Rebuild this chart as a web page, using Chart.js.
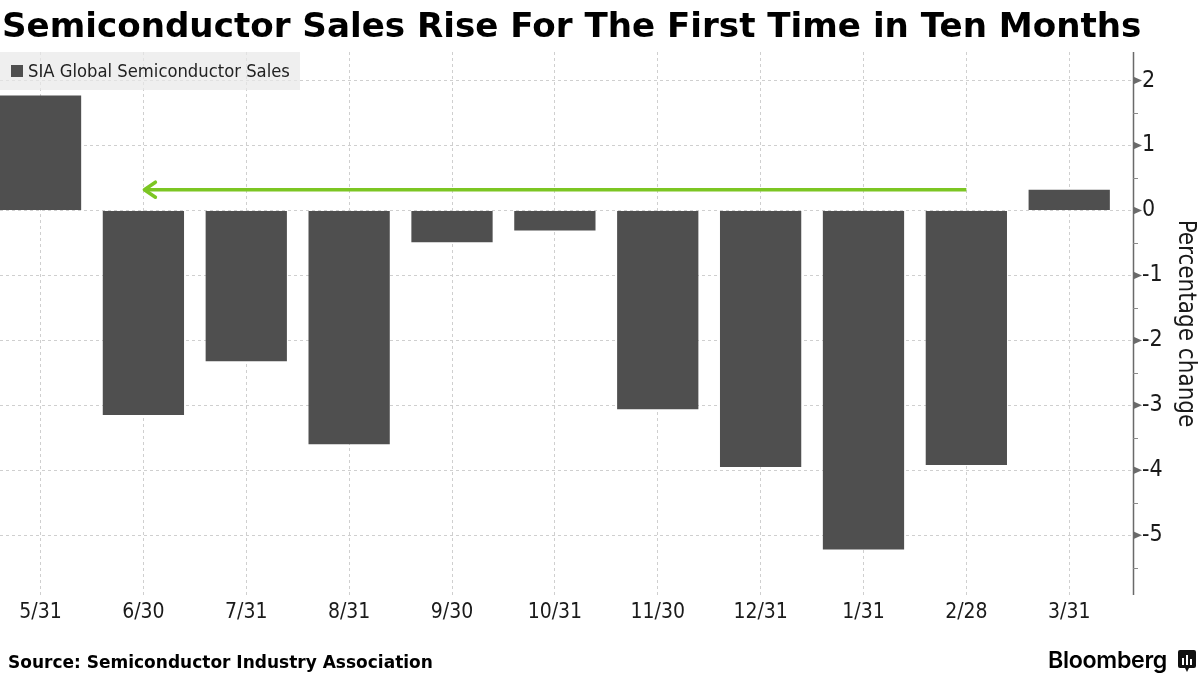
<!DOCTYPE html>
<html>
<head>
<meta charset="utf-8">
<script src="https://cdn.jsdelivr.net/npm/chart.js@4.4.1/dist/chart.umd.min.js"></script>
<style>
  html, body { margin: 0; padding: 0; background: #fff; }
  #wrap { position: relative; width: 1200px; height: 675px; overflow: hidden; background: #fff; }
  #chart { position: absolute; left: 0; top: 0; }
  .txt { position: absolute; white-space: nowrap; line-height: 1; }
  #title { left: 2px; top: 8px; font-family: "DejaVu Sans", sans-serif; font-weight: bold; font-size: 34px; color: #000; }
  #source { left: 8px; top: 654px; font-family: "DejaVu Sans", sans-serif; font-weight: bold; font-size: 17px; color: #000; }
  #legend { position: absolute; left: 0; top: 52px; width: 300px; height: 38px; background: rgba(232,232,232,0.7); }
  #legend .sw { position: absolute; left: 11px; top: 13px; width: 12px; height: 12px; background: #4f4f4f; }
  #legend .lbl { position: absolute; left: 28px; top: 10px; font-family: "DejaVu Sans Condensed", "DejaVu Sans", sans-serif; font-size: 17px; color: #222; white-space: nowrap; line-height: 1; }
  #brand { left: 1048px; top: 649px; font-family: "Inter", "DejaVu Sans", sans-serif; font-weight: 600; font-size: 22px; color: #000; letter-spacing: -0.3px; }
  #logo { position: absolute; left: 1178px; top: 650px; }
</style>
</head>
<body>
<div id="wrap">
  <canvas id="chart" width="1200" height="675"></canvas>
  <div id="legend"><div class="sw"></div><span class="lbl" id="legendLabel"></span></div>
  <span class="txt" id="title"></span>
  <span class="txt" id="source"></span>
  <span class="txt" id="brand">Bloomberg</span>
  <svg id="logo" width="19" height="23" viewBox="0 0 19 23">
    <rect x="0" y="0" width="18" height="18" rx="2" fill="#111"/>
    <polygon points="7,18 11,18 9,22" fill="#111"/>
    <rect x="4" y="8" width="2" height="7" fill="#fff"/>
    <rect x="8" y="5" width="2" height="10" fill="#fff"/>
    <rect x="12" y="9" width="2" height="6" fill="#fff"/>
  </svg>
</div>
<script>
// ---- data ----
const titleText = 'Semiconductor Sales Rise For The First Time in Ten Months';
const sourceText = 'Source: Semiconductor Industry Association';
const seriesName = 'SIA Global Semiconductor Sales';
const axisTitle = 'Percentage change';
const categories = ['5/31', '6/30', '7/31', '8/31', '9/30', '10/31', '11/30', '12/31', '1/31', '2/28', '3/31'];
const salesChange = [1.77, -3.15, -2.32, -3.60, -0.49, -0.31, -3.06, -3.95, -5.22, -3.92, 0.32];
const yTickValues = [2, 1, 0, -1, -2, -3, -4, -5];
const yMinorValues = [1.5, 0.5, -0.5, -1.5, -2.5, -3.5, -4.5, -5.5];
const arrowStart = '2/28';
const arrowEnd = '6/30';
const arrowLevel = 0.32;

// ---- text ----
function fitWidth(el, target) {
  const w = el.getBoundingClientRect().width;
  const fs = parseFloat(getComputedStyle(el).fontSize);
  el.style.fontSize = (fs * target / w) + 'px';
}
document.getElementById('title').textContent = titleText;
document.getElementById('source').textContent = sourceText;
document.getElementById('legendLabel').textContent = seriesName;
fitWidth(document.getElementById('title'), 1140);
fitWidth(document.getElementById('source'), 425);
fitWidth(document.getElementById('legendLabel'), 262);
fitWidth(document.getElementById('brand'), 119);

// ---- chart ----
const BAR = '#4f4f4f';
const GRID = '#cfcfcf';
const AXIS = '#6a6a6a';
const GREEN = '#7cc623';
const TICKFONT = '"DejaVu Sans Condensed", "DejaVu Sans", sans-serif';

const axisPlugin = {
  id: 'axisDecor',
  afterDatasetsDraw(chart) {
    const ctx = chart.ctx;
    const xs = chart.scales.x, ys = chart.scales.y;
    const area = chart.chartArea;
    ctx.save();
    ctx.strokeStyle = AXIS;
    ctx.lineWidth = 1.5;
    ctx.beginPath();
    ctx.moveTo(area.right + 0.5, area.top);
    ctx.lineTo(area.right + 0.5, area.bottom);
    ctx.stroke();
    ctx.fillStyle = AXIS;
    yTickValues.forEach(v => {
      const y = ys.getPixelForValue(v);
      ctx.beginPath();
      ctx.moveTo(area.right, y - 4);
      ctx.lineTo(area.right + 9, y);
      ctx.lineTo(area.right, y + 4);
      ctx.closePath();
      ctx.fill();
    });
    ctx.strokeStyle = '#8a8a8a';
    ctx.lineWidth = 1;
    yMinorValues.forEach(v => {
      const y = Math.round(ys.getPixelForValue(v)) + 0.5;
      ctx.beginPath();
      ctx.moveTo(area.right, y);
      ctx.lineTo(area.right + 5, y);
      ctx.stroke();
    });
    const x1 = xs.getPixelForValue(categories.indexOf(arrowStart));
    const x2 = xs.getPixelForValue(categories.indexOf(arrowEnd));
    const ya = ys.getPixelForValue(arrowLevel);
    ctx.strokeStyle = GREEN;
    ctx.lineWidth = 3.5;
    ctx.lineCap = 'butt';
    ctx.beginPath();
    ctx.moveTo(x1, ya);
    ctx.lineTo(x2 + 1, ya);
    ctx.stroke();
    ctx.lineCap = 'round';
    ctx.lineJoin = 'round';
    ctx.beginPath();
    ctx.moveTo(x2 + 12, ya - 7.5);
    ctx.lineTo(x2 + 1, ya);
    ctx.lineTo(x2 + 12, ya + 7.5);
    ctx.stroke();
    ctx.restore();
  }
};

new Chart(document.getElementById('chart'), {
  type: 'bar',
  data: {
    datasets: [{
      label: seriesName,
      data: salesChange.map((v, i) => ({ x: i, y: v })),
      backgroundColor: BAR,
      borderWidth: 0,
      barPercentage: 0.79,
      categoryPercentage: 1.0
    }]
  },
  options: {
    responsive: false,
    animation: false,
    devicePixelRatio: 1,
    layout: { padding: { top: 52, bottom: 40, left: 0, right: 0 } },
    plugins: { legend: { display: false }, tooltip: { enabled: false }, title: { display: false } },
    scales: {
      x: {
        type: 'linear',
        offset: false,
        min: -0.394,
        max: 10.62,
        afterBuildTicks: s => { s.ticks = categories.map((_, i) => ({ value: i })); },
        afterFit: s => { s.height = 40; },
        ticks: {
          callback: v => categories[v],
          font: { family: TICKFONT, size: 21 },
          color: '#1a1a1a',
          padding: 5,
          maxRotation: 0,
          autoSkip: false
        },
        grid: { color: GRID, lineWidth: 1, drawTicks: false, offset: false },
        border: { display: false, dash: [3, 3] }
      },
      y: {
        position: 'right',
        min: -5.92,
        max: 2.44,
        afterBuildTicks: s => { s.ticks = yTickValues.map(v => ({ value: v })); },
        afterFit: s => { s.width = 67; },
        ticks: {
          callback: v => String(v),
          font: { family: TICKFONT, size: 23 },
          color: '#1a1a1a',
          padding: 9
        },
        grid: { color: GRID, lineWidth: 1, drawTicks: false },
        border: { display: false, dash: [3, 3] },
        title: {
          display: true,
          text: axisTitle,
          font: { family: TICKFONT, size: 24 },
          color: '#1a1a1a',
          padding: { top: 0, bottom: 0 }
        }
      }
    }
  },
  plugins: [axisPlugin]
});
</script>
</body>
</html>
